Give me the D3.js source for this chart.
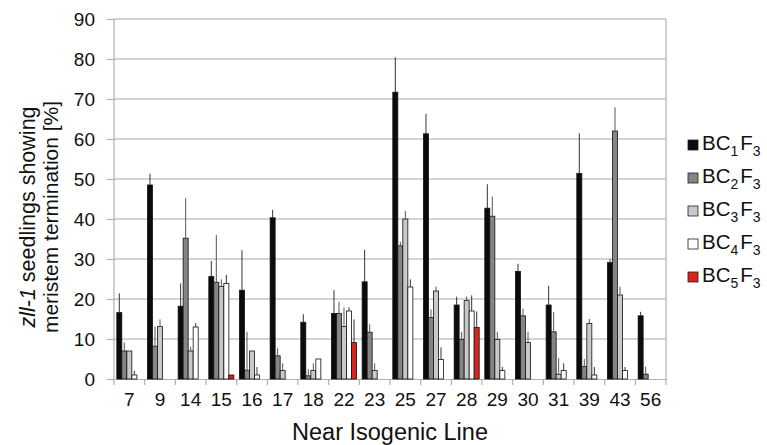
<!DOCTYPE html>
<html lang="en">
<head>
  <meta charset="UTF-8">
  <title>Meristem termination</title>
  <script src="https://d3js.org/d3.v7.min.js"></script>
  <style>
    body { margin: 0; background: #fff; }
    text { font-family: "Liberation Sans", Arial, Helvetica, sans-serif; fill: #111; }
  </style>
</head>
<body>
  <div id="chart"></div>

  <script>
    // near isogenic lines
    const lines = ['7', '9', '14', '15', '16', '17', '18', '22', '23', '25', '27', '28', '29', '30', '31', '39', '43', '56'];
    const series = ['BC1F3', 'BC2F3', 'BC3F3', 'BC4F3', 'BC5F3'];
    const seriesSub = [['1', '3'], ['2', '3'], ['3', '3'], ['4', '3'], ['5', '3']];

    // % seedlings, one array per backcross generation
    const bc1 = [16.6, 48.5, 18.2, 25.6, 22.2, 40.3, 14.2, 16.4, 24.3, 71.7, 61.3, 18.5, 42.7, 26.9, 18.5, 51.4, 29.1, 15.8];
    const bc2 = [7.0, 8.2, 35.2, 24.2, 2.2, 5.8, 0.8, 16.4, 11.7, 33.3, 15.4, 9.9, 40.7, 15.8, 11.8, 3.1, 62.0, 1.2];
    const bc3 = [7.0, 13.1, 7.0, 23.1, 7.0, 2.1, 2.1, 13.1, 2.1, 40.0, 22.0, 19.6, 9.9, 9.1, 1.2, 13.9, 21.0, 0];
    const bc4 = [1.0, 0, 13.0, 23.9, 1.0, 0, 5.0, 17.0, 0, 23.0, 4.9, 17.0, 2.1, 0, 2.1, 1.0, 2.1, 0];
    const bc5 = [0, 0, 0, 1.0, 0, 0, 0, 9.1, 0, 0, 0, 12.9, 0, 0, 0, 0, 0, 0];

    // upper error (same order)
    const bc1Err = [4.8, 2.8, 5.7, 3.9, 10.0, 2.0, 2.0, 5.8, 8.0, 8.7, 5.0, 2.1, 6.0, 1.9, 4.8, 10.0, 0.8, 1.0];
    const bc2Err = [2.1, 4.9, 10.0, 11.8, 9.6, 1.9, 1.6, 2.9, 2.0, 1.0, 2.0, 1.9, 4.9, 1.8, 5.0, 1.9, 5.9, 1.9];
    const bc3Err = [0, 1.8, 1.0, 1.8, 0, 1.8, 1.8, 4.8, 1.8, 2.0, 1.1, 1.0, 1.9, 2.7, 4.0, 1.1, 2.1, 0];
    const bc4Err = [1.0, 0, 1.0, 2.1, 2.0, 0, 0, 0.9, 0, 1.9, 3.0, 3.9, 0.9, 0, 1.8, 2.0, 0.9, 0];
    const bc5Err = [0, 0, 0, 0, 0, 0, 0, 5.8, 0, 0, 0, 4.0, 0, 0, 0, 0, 0, 0];

    const yTicks = [0, 10, 20, 30, 40, 50, 60, 70, 80, 90];

    const colors = ['#0b0b0b', '#858585', '#c9c9c9', '#ffffff', '#d9261c'];
    const errColors = ['#333', '#555', '#555', '#333', '#333'];

    const values = [bc1, bc2, bc3, bc4, bc5];
    const errs = [bc1Err, bc2Err, bc3Err, bc4Err, bc5Err];

    const width = 767, height = 445;
    const m = { left: 114, right: 101, top: 19, bottom: 66 };

    const svg = d3.select('#chart').append('svg')
      .attr('width', width)
      .attr('height', height);

    const x = d3.scaleBand().domain(lines).range([m.left, width - m.right]).padding(0);
    const xs = d3.scaleBand().domain(series).range([0, x.bandwidth()])
      .paddingInner(0).paddingOuter(0.56);
    const y = d3.scaleLinear().domain([0, 90]).range([height - m.bottom, m.top]);

    // grid
    svg.append('g').selectAll('line')
      .data(yTicks.slice(1))
      .join('line')
      .attr('x1', m.left).attr('x2', width - m.right)
      .attr('y1', d => y(d)).attr('y2', d => y(d))
      .attr('stroke', '#a8a8a8').attr('stroke-width', 1.2);

    // right frame line
    svg.append('line')
      .attr('x1', width - m.right).attr('x2', width - m.right)
      .attr('y1', y(90)).attr('y2', y(0))
      .attr('stroke', '#b5b5b5').attr('stroke-width', 1.2);

    // y axis
    const yAxis = svg.append('g')
      .attr('transform', `translate(${m.left},0)`)
      .call(d3.axisLeft(y).tickValues(yTicks).tickSize(7).tickPadding(12));
    yAxis.selectAll('line, path').attr('stroke', '#b0b0b0').attr('stroke-width', 1.2);
    yAxis.selectAll('text').style('font-size', '19px').attr('fill', '#111');
    yAxis.select('.domain').attr('d', `M0,${y(0)}V${y(90)}`);

    // x axis: ticks on band edges
    const xAxis = svg.append('g')
      .attr('transform', `translate(0,${y(0)})`)
      .call(d3.axisBottom(x).tickSize(0).tickPadding(14));
    xAxis.select('.domain').attr('stroke', '#b0b0b0').attr('stroke-width', 1.2);
    xAxis.selectAll('text').style('font-size', '19px').attr('fill', '#111');
    const edges = lines.map(d => x(d)).concat([x(lines[lines.length - 1]) + x.bandwidth()]);
    xAxis.append('g').selectAll('line')
      .data(edges)
      .join('line')
      .attr('x1', d => d).attr('x2', d => d)
      .attr('y1', 0).attr('y2', 6)
      .attr('stroke', '#b0b0b0').attr('stroke-width', 1.2);

    // bars
    const groups = svg.append('g').selectAll('g')
      .data(lines)
      .join('g')
      .attr('transform', d => `translate(${x(d)},0)`);

    series.forEach((s, si) => {
      groups.filter((d, i) => values[si][i] > 0)
        .append('rect')
        .attr('x', xs(s))
        .attr('width', xs.bandwidth())
        .attr('y', (d) => y(values[si][lines.indexOf(d)]))
        .attr('height', (d) => y(0) - y(values[si][lines.indexOf(d)]))
        .attr('fill', colors[si])
        .attr('stroke', '#111')
        .attr('stroke-width', 0.8);

      groups.filter((d, i) => errs[si][i] > 0)
        .append('line')
        .attr('x1', xs(s) + xs.bandwidth() / 2)
        .attr('x2', xs(s) + xs.bandwidth() / 2)
        .attr('y1', (d) => y(values[si][lines.indexOf(d)]))
        .attr('y2', (d) => { const i = lines.indexOf(d); return y(values[si][i] + errs[si][i]); })
        .attr('stroke', errColors[si])
        .attr('stroke-width', 1);
    });

    // axis titles
    svg.append('text')
      .attr('x', (m.left + width - m.right) / 2)
      .attr('y', 440)
      .attr('text-anchor', 'middle')
      .style('font-size', '23.5px')
      .text('Near Isogenic Line');

    const yt = svg.append('text')
      .attr('transform', 'translate(35,217) rotate(-90)')
      .attr('text-anchor', 'middle')
      .style('font-size', '21.5px');
    yt.append('tspan').style('font-style', 'italic').text('zll-1');
    yt.append('tspan').text(' seedlings showing');
    svg.append('text')
      .attr('transform', 'translate(58,217) rotate(-90)')
      .attr('text-anchor', 'middle')
      .style('font-size', '21px')
      .text('meristem termination [%]');

    // legend
    const legend = svg.append('g').attr('transform', 'translate(688,140)');
    const items = legend.selectAll('g')
      .data(series)
      .join('g')
      .attr('transform', (d, i) => `translate(0,${i * 33})`);
    items.append('rect')
      .attr('width', 10).attr('height', 10)
      .attr('fill', (d, i) => colors[i])
      .attr('stroke', '#222').attr('stroke-width', 0.8);
    const lt = items.append('text')
      .attr('x', 14).attr('y', 10)
      .style('font-size', '20.5px');
    lt.append('tspan').text('BC');
    lt.append('tspan').attr('dy', 6).style('font-size', '14px').text((d, i) => seriesSub[i][0]);
    lt.append('tspan').attr('dy', -6).attr('dx', 2).text('F');
    lt.append('tspan').attr('dy', 6).style('font-size', '14px').text((d, i) => seriesSub[i][1]);
  </script>
</body>
</html>
